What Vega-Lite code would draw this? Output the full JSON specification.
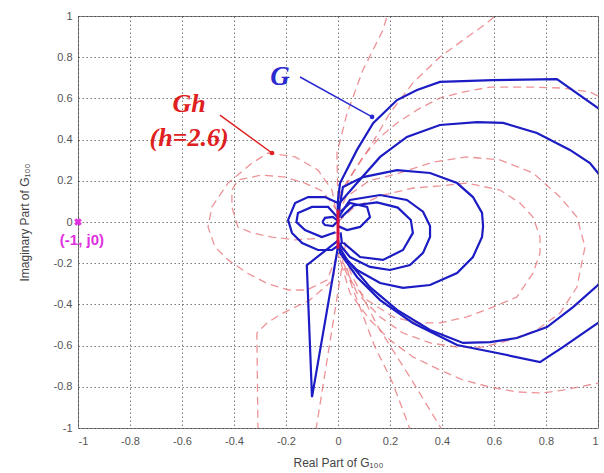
{
 "$schema": "https://vega.github.io/schema/vega-lite/v6.json",
 "width": 520, "height": 412,
 "autosize": {"type": "none"},
 "padding": {"left": 78, "top": 16, "right": 6, "bottom": 45},
 "background": "white",
 "config": {
  "view": {"stroke": "#808080", "strokeWidth": 1},
  "axis": {"grid": true, "gridColor": "#333", "gridDash": [1.5, 2.5], "gridOpacity": 0.65, "domain": false, "ticks": false,
   "labelFont": "Liberation Sans", "labelFontSize": 11, "labelColor": "#555", "titleFont": "Liberation Sans", "titleFontSize": 12, "titleFontWeight": "normal", "titleColor": "#444"}
 },
 "datasets": {
  "g": [
   {"s":"G1","k":0,"x":0,"y":0},{"s":"G1","k":1,"x":0,"y":0.107},{"s":"G1","k":2,"x":0.008,"y":0.189},{"s":"G1","k":3,"x":0.073,"y":0.35},{"s":"G1","k":4,"x":0.135,"y":0.48},{"s":"G1","k":5,"x":0.227,"y":0.592},{"s":"G1","k":6,"x":0.304,"y":0.641},{"s":"G1","k":7,"x":0.392,"y":0.68},{"s":"G1","k":8,"x":0.596,"y":0.689},{"s":"G1","k":9,"x":0.842,"y":0.694},{"s":"G1","k":10,"x":1.0,"y":0.553},{"s":"G1","k":11,"x":1.25,"y":0.33},{"s":"G1","k":12,"x":1.25,"y":-0.3},{"s":"G1","k":13,"x":1.0,"y":-0.49},{"s":"G1","k":14,"x":0.865,"y":-0.607},{"s":"G1","k":15,"x":0.777,"y":-0.68},{"s":"G1","k":16,"x":0.612,"y":-0.636},{"s":"G1","k":17,"x":0.458,"y":-0.597},{"s":"G1","k":18,"x":0.288,"y":-0.49},{"s":"G1","k":19,"x":0.162,"y":-0.379},{"s":"G1","k":20,"x":0.073,"y":-0.267},{"s":"G1","k":21,"x":0.008,"y":-0.15},{"s":"G1","k":22,"x":0,"y":-0.087},
   {"s":"G2","k":0,"x":0,"y":0},{"s":"G2","k":1,"x":0,"y":0.083},{"s":"G2","k":2,"x":0.073,"y":0.189},{"s":"G2","k":3,"x":0.162,"y":0.316},{"s":"G2","k":4,"x":0.265,"y":0.413},{"s":"G2","k":5,"x":0.392,"y":0.471},{"s":"G2","k":6,"x":0.535,"y":0.485},{"s":"G2","k":7,"x":0.635,"y":0.481},{"s":"G2","k":8,"x":0.765,"y":0.432},{"s":"G2","k":9,"x":0.892,"y":0.35},{"s":"G2","k":10,"x":0.969,"y":0.286},{"s":"G2","k":11,"x":1.0,"y":0.238},{"s":"G2","k":12,"x":1.08,"y":0.05},{"s":"G2","k":13,"x":1.08,"y":-0.12},{"s":"G2","k":14,"x":1.0,"y":-0.306},{"s":"G2","k":15,"x":0.904,"y":-0.413},{"s":"G2","k":16,"x":0.804,"y":-0.51},{"s":"G2","k":17,"x":0.688,"y":-0.563},{"s":"G2","k":18,"x":0.585,"y":-0.583},{"s":"G2","k":19,"x":0.481,"y":-0.587},{"s":"G2","k":20,"x":0.354,"y":-0.524},{"s":"G2","k":21,"x":0.227,"y":-0.427},{"s":"G2","k":22,"x":0.123,"y":-0.316},{"s":"G2","k":23,"x":0.035,"y":-0.184},{"s":"G2","k":24,"x":0,"y":-0.112},
   {"s":"G3","k":0,"x":0,"y":0.03},{"s":"G3","k":1,"x":0.019,"y":0.17},{"s":"G3","k":2,"x":0.096,"y":0.218},{"s":"G3","k":3,"x":0.227,"y":0.252},{"s":"G3","k":4,"x":0.354,"y":0.238},{"s":"G3","k":5,"x":0.458,"y":0.189},{"s":"G3","k":6,"x":0.519,"y":0.121},{"s":"G3","k":7,"x":0.554,"y":0.044},{"s":"G3","k":8,"x":0.558,"y":-0.02},{"s":"G3","k":9,"x":0.554,"y":-0.073},{"s":"G3","k":10,"x":0.519,"y":-0.17},{"s":"G3","k":11,"x":0.458,"y":-0.248},{"s":"G3","k":12,"x":0.354,"y":-0.306},{"s":"G3","k":13,"x":0.25,"y":-0.32},{"s":"G3","k":14,"x":0.162,"y":-0.296},{"s":"G3","k":15,"x":0.073,"y":-0.233},{"s":"G3","k":16,"x":0.008,"y":-0.15},
   {"s":"G4","k":0,"x":0,"y":0.02},{"s":"G4","k":1,"x":0.046,"y":0.107},{"s":"G4","k":2,"x":0.162,"y":0.131},{"s":"G4","k":3,"x":0.265,"y":0.107},{"s":"G4","k":4,"x":0.327,"y":0.05},{"s":"G4","k":5,"x":0.354,"y":-0.02},{"s":"G4","k":6,"x":0.354,"y":-0.073},{"s":"G4","k":7,"x":0.327,"y":-0.15},{"s":"G4","k":8,"x":0.277,"y":-0.209},{"s":"G4","k":9,"x":0.2,"y":-0.233},{"s":"G4","k":10,"x":0.123,"y":-0.218},{"s":"G4","k":11,"x":0.046,"y":-0.17},{"s":"G4","k":12,"x":0.008,"y":-0.112},
   {"s":"G5","k":0,"x":0.01,"y":0.02},{"s":"G5","k":1,"x":0.06,"y":0.08},{"s":"G5","k":2,"x":0.15,"y":0.095},{"s":"G5","k":3,"x":0.23,"y":0.07},{"s":"G5","k":4,"x":0.28,"y":0.01},{"s":"G5","k":5,"x":0.288,"y":-0.053},{"s":"G5","k":6,"x":0.25,"y":-0.136},{"s":"G5","k":7,"x":0.173,"y":-0.184},{"s":"G5","k":8,"x":0.085,"y":-0.17},{"s":"G5","k":9,"x":0.02,"y":-0.1},
   {"s":"G6","k":0,"x":0,"y":0},{"s":"G6","k":1,"x":0,"y":0.092},{"s":"G6","k":2,"x":-0.05,"y":0.121},{"s":"G6","k":3,"x":-0.115,"y":0.121},{"s":"G6","k":4,"x":-0.165,"y":0.092},{"s":"G6","k":5,"x":-0.192,"y":0.01},{"s":"G6","k":6,"x":-0.177,"y":-0.053},{"s":"G6","k":7,"x":-0.138,"y":-0.102},{"s":"G6","k":8,"x":-0.077,"y":-0.136},{"s":"G6","k":9,"x":-0.023,"y":-0.136},{"s":"G6","k":10,"x":0.015,"y":-0.102},{"s":"G6","k":11,"x":0.01,"y":-0.05},
   {"s":"G7","k":0,"x":0,"y":0.02},{"s":"G7","k":1,"x":-0.038,"y":0.073},{"s":"G7","k":2,"x":-0.1,"y":0.073},{"s":"G7","k":3,"x":-0.154,"y":0.044},{"s":"G7","k":4,"x":-0.16,"y":0},{"s":"G7","k":5,"x":-0.127,"y":-0.039},{"s":"G7","k":6,"x":-0.062,"y":-0.073},{"s":"G7","k":7,"x":-0.01,"y":-0.05},
   {"s":"G8","k":0,"x":0.01,"y":0.05},{"s":"G8","k":1,"x":0.046,"y":0.092},{"s":"G8","k":2,"x":0.112,"y":0.073},{"s":"G8","k":3,"x":0.123,"y":0.024},{"s":"G8","k":4,"x":0.085,"y":-0.024},{"s":"G8","k":5,"x":0.035,"y":-0.039},{"s":"G8","k":6,"x":0,"y":-0.02},
   {"s":"G9","k":0,"x":-0.06,"y":0},{"s":"G9","k":1,"x":-0.05,"y":0.02},{"s":"G9","k":2,"x":-0.02,"y":0.025},{"s":"G9","k":3,"x":0,"y":0.005},{"s":"G9","k":4,"x":-0.02,"y":-0.02},{"s":"G9","k":5,"x":-0.05,"y":-0.015},{"s":"G9","k":6,"x":-0.06,"y":0},
   {"s":"G10","k":0,"x":0,"y":-0.09},{"s":"G10","k":1,"x":-0.12,"y":-0.21},{"s":"G10","k":2,"x":-0.1,"y":-0.85},{"s":"G10","k":3,"x":0,"y":-0.12}
  ],
  "gh": [
   {"s":"R1","k":0,"x":0,"y":0.05},{"s":"R1","k":1,"x":-0.004,"y":0.335},{"s":"R1","k":2,"x":0.035,"y":0.529},{"s":"R1","k":3,"x":0.096,"y":0.738},{"s":"R1","k":4,"x":0.173,"y":0.932},{"s":"R1","k":5,"x":0.2,"y":1.05},
   {"s":"R2","k":0,"x":0,"y":0.05},{"s":"R2","k":1,"x":0.008,"y":0.121},{"s":"R2","k":2,"x":0.058,"y":0.238},{"s":"R2","k":3,"x":0.123,"y":0.364},{"s":"R2","k":4,"x":0.2,"y":0.529},{"s":"R2","k":5,"x":0.288,"y":0.675},{"s":"R2","k":6,"x":0.392,"y":0.801},{"s":"R2","k":7,"x":0.481,"y":0.883},{"s":"R2","k":8,"x":0.573,"y":0.966},{"s":"R2","k":9,"x":0.63,"y":1.03},
   {"s":"R3","k":0,"x":0,"y":0.05},{"s":"R3","k":1,"x":0.008,"y":0.141},{"s":"R3","k":2,"x":0.046,"y":0.218},{"s":"R3","k":3,"x":0.096,"y":0.316},{"s":"R3","k":4,"x":0.162,"y":0.413},{"s":"R3","k":5,"x":0.227,"y":0.481},{"s":"R3","k":6,"x":0.304,"y":0.544},{"s":"R3","k":7,"x":0.392,"y":0.602},{"s":"R3","k":8,"x":0.481,"y":0.631},{"s":"R3","k":9,"x":0.585,"y":0.655},{"s":"R3","k":10,"x":0.738,"y":0.655},{"s":"R3","k":11,"x":0.865,"y":0.65},{"s":"R3","k":12,"x":0.969,"y":0.631},{"s":"R3","k":13,"x":1.1,"y":0.55},{"s":"R3","k":14,"x":1.2,"y":0},{"s":"R3","k":15,"x":1.1,"y":-0.7},{"s":"R3","k":16,"x":1.0,"y":-0.782},{"s":"R3","k":17,"x":0.865,"y":-0.816},{"s":"R3","k":18,"x":0.788,"y":-0.83},{"s":"R3","k":19,"x":0.688,"y":-0.825},{"s":"R3","k":20,"x":0.585,"y":-0.801},{"s":"R3","k":21,"x":0.481,"y":-0.767},{"s":"R3","k":22,"x":0.392,"y":-0.718},{"s":"R3","k":23,"x":0.288,"y":-0.655},{"s":"R3","k":24,"x":0.2,"y":-0.573},{"s":"R3","k":25,"x":0.123,"y":-0.476},{"s":"R3","k":26,"x":0.046,"y":-0.345},{"s":"R3","k":27,"x":0,"y":-0.15},
   {"s":"R4","k":0,"x":0,"y":0},{"s":"R4","k":1,"x":0.06,"y":0.07},{"s":"R4","k":2,"x":0.17,"y":0.13},{"s":"R4","k":3,"x":0.29,"y":0.165},{"s":"R4","k":4,"x":0.392,"y":0.175},{"s":"R4","k":5,"x":0.496,"y":0.189},{"s":"R4","k":6,"x":0.623,"y":0.155},{"s":"R4","k":7,"x":0.7,"y":0.092},{"s":"R4","k":8,"x":0.75,"y":0.024},{"s":"R4","k":9,"x":0.777,"y":-0.073},{"s":"R4","k":10,"x":0.777,"y":-0.15},{"s":"R4","k":11,"x":0.75,"y":-0.248},{"s":"R4","k":12,"x":0.688,"y":-0.364},{"s":"R4","k":13,"x":0.596,"y":-0.413},{"s":"R4","k":14,"x":0.496,"y":-0.461},{"s":"R4","k":15,"x":0.392,"y":-0.49},{"s":"R4","k":16,"x":0.304,"y":-0.49},{"s":"R4","k":17,"x":0.212,"y":-0.461},{"s":"R4","k":18,"x":0.112,"y":-0.379},{"s":"R4","k":19,"x":0.046,"y":-0.282},{"s":"R4","k":20,"x":0.008,"y":-0.184},
   {"s":"R5","k":0,"x":0,"y":0.03},{"s":"R5","k":1,"x":0.03,"y":0.12},{"s":"R5","k":2,"x":0.12,"y":0.2},{"s":"R5","k":3,"x":0.238,"y":0.238},{"s":"R5","k":4,"x":0.365,"y":0.291},{"s":"R5","k":5,"x":0.496,"y":0.316},{"s":"R5","k":6,"x":0.623,"y":0.301},{"s":"R5","k":7,"x":0.75,"y":0.238},{"s":"R5","k":8,"x":0.854,"y":0.121},{"s":"R5","k":9,"x":0.919,"y":0.024},{"s":"R5","k":10,"x":0.95,"y":-0.121},{"s":"R5","k":11,"x":0.919,"y":-0.316},{"s":"R5","k":12,"x":0.854,"y":-0.442},{"s":"R5","k":13,"x":0.765,"y":-0.524},{"s":"R5","k":14,"x":0.662,"y":-0.573},{"s":"R5","k":15,"x":0.558,"y":-0.607},{"s":"R5","k":16,"x":0.458,"y":-0.607},{"s":"R5","k":17,"x":0.354,"y":-0.587},{"s":"R5","k":18,"x":0.25,"y":-0.539},{"s":"R5","k":19,"x":0.162,"y":-0.461},{"s":"R5","k":20,"x":0.073,"y":-0.345},{"s":"R5","k":21,"x":0.01,"y":-0.17},
   {"s":"R6","k":0,"x":0,"y":0},{"s":"R6","k":1,"x":-0.023,"y":0.155},{"s":"R6","k":2,"x":-0.077,"y":0.252},{"s":"R6","k":3,"x":-0.165,"y":0.316},{"s":"R6","k":4,"x":-0.269,"y":0.335},{"s":"R6","k":5,"x":-0.331,"y":0.286},{"s":"R6","k":6,"x":-0.423,"y":0.189},{"s":"R6","k":7,"x":-0.485,"y":0.073},{"s":"R6","k":8,"x":-0.5,"y":-0.024},{"s":"R6","k":9,"x":-0.473,"y":-0.121},{"s":"R6","k":10,"x":-0.423,"y":-0.184},{"s":"R6","k":11,"x":-0.346,"y":-0.25},{"s":"R6","k":12,"x":-0.27,"y":-0.3},{"s":"R6","k":13,"x":-0.19,"y":-0.33},{"s":"R6","k":14,"x":-0.12,"y":-0.33},{"s":"R6","k":15,"x":-0.042,"y":-0.282},{"s":"R6","k":16,"x":0,"y":-0.15},
   {"s":"R7","k":0,"x":0,"y":0.05},{"s":"R7","k":1,"x":-0.06,"y":0.15},{"s":"R7","k":2,"x":-0.127,"y":0.189},{"s":"R7","k":3,"x":-0.204,"y":0.218},{"s":"R7","k":4,"x":-0.292,"y":0.228},{"s":"R7","k":5,"x":-0.385,"y":0.204},{"s":"R7","k":6,"x":-0.408,"y":0.155},{"s":"R7","k":7,"x":-0.408,"y":0.073},{"s":"R7","k":8,"x":-0.385,"y":-0.024},{"s":"R7","k":9,"x":-0.331,"y":-0.053},{"s":"R7","k":10,"x":-0.254,"y":-0.073},{"s":"R7","k":11,"x":-0.165,"y":-0.087},{"s":"R7","k":12,"x":-0.08,"y":-0.08},{"s":"R7","k":13,"x":0,"y":-0.05},
   {"s":"R8","k":0,"x":0,"y":-0.1},{"s":"R8","k":1,"x":-0.019,"y":-0.282},{"s":"R8","k":2,"x":-0.108,"y":-0.379},{"s":"R8","k":3,"x":-0.212,"y":-0.442},{"s":"R8","k":4,"x":-0.273,"y":-0.49},{"s":"R8","k":5,"x":-0.312,"y":-0.539},{"s":"R8","k":6,"x":-0.308,"y":-0.995},{"s":"R8","k":7,"x":-0.305,"y":-1.1},
   {"s":"R9","k":0,"x":0.03,"y":-0.1},{"s":"R9","k":1,"x":-0.09,"y":-1.05},
   {"s":"R10","k":0,"x":0.01,"y":-0.1},{"s":"R10","k":1,"x":0.05,"y":-0.3},{"s":"R10","k":2,"x":0.14,"y":-0.6},{"s":"R10","k":3,"x":0.21,"y":-0.78},{"s":"R10","k":4,"x":0.29,"y":-1.05},
   {"s":"R11","k":0,"x":0.01,"y":-0.1},{"s":"R11","k":1,"x":0.05,"y":-0.25},{"s":"R11","k":2,"x":0.15,"y":-0.5},{"s":"R11","k":3,"x":0.28,"y":-0.76},{"s":"R11","k":4,"x":0.42,"y":-1.05}
  ],
  "core": [{"s":"C","k":0,"x":0,"y":0.06},{"s":"C","k":1,"x":0,"y":-0.13}],
  "arrowG": [{"x":-0.146,"y":0.704,"x2":0.131,"y2":0.51}],
  "arrowGh": [{"x":-0.454,"y":0.519,"x2":-0.254,"y2":0.335}],
  "headG": [{"x":0.131,"y":0.51}],
  "headGh": [{"x":-0.254,"y":0.335}],
  "labG": [{"x":-0.223,"y":0.704,"label":"G"}],
  "labGh": [{"x":-0.573,"y":0.573,"label":"Gh"},{"x":-0.573,"y":0.41,"label":"(h=2.6)"}],
  "labPt": [{"x":-0.985,"y":-0.087,"label":"(-1, j0)"}],
  "pt": [{"x":-1,"y":0}]
 },
 "encoding": {
  "x": {"field": "x", "type": "quantitative", "scale": {"domain": [-1, 1], "nice": false, "zero": false},
   "axis": {"values": [-1,-0.8,-0.6,-0.4,-0.2,0,0.2,0.4,0.6,0.8,1], "labelExpr": "toString(round(datum.value*10)/10)", "labelPadding": 7, "titlePadding": 11, "title": "Real Part of G₁₀₀"}},
  "y": {"field": "y", "type": "quantitative", "scale": {"domain": [-1, 1], "nice": false, "zero": false},
   "axis": {"values": [-1,-0.8,-0.6,-0.4,-0.2,0,0.2,0.4,0.6,0.8,1], "labelExpr": "toString(round(datum.value*10)/10)", "labelPadding": 6, "titlePadding": 22, "title": "Imaginary Part of G₁₀₀"}}
 },
 "layer": [
  {"data": {"name": "gh"}, "mark": {"type": "line", "clip": true, "color": "#e66a70", "strokeWidth": 1.3, "strokeDash": [8, 5], "opacity": 0.72},
   "encoding": {"detail": {"field": "s"}, "order": {"field": "k", "type": "quantitative"}}},
  {"data": {"name": "g"}, "mark": {"type": "line", "clip": true, "color": "#1c1cc4", "strokeWidth": 2.2},
   "encoding": {"detail": {"field": "s"}, "order": {"field": "k", "type": "quantitative"}}},
  {"data": {"name": "core"}, "mark": {"type": "line", "clip": true, "color": "#d81040", "strokeWidth": 3},
   "encoding": {"order": {"field": "k", "type": "quantitative"}}},
  {"data": {"name": "arrowG"}, "mark": {"type": "rule", "color": "#2a2ad0", "strokeWidth": 1.5},
   "encoding": {"x2": {"field": "x2"}, "y2": {"field": "y2"}}},
  {"data": {"name": "arrowGh"}, "mark": {"type": "rule", "color": "#e02020", "strokeWidth": 1.5},
   "encoding": {"x2": {"field": "x2"}, "y2": {"field": "y2"}}},
  {"data": {"name": "headG"}, "mark": {"type": "point", "filled": true, "color": "#2a2ad0", "size": 22, "opacity": 1}},
  {"data": {"name": "headGh"}, "mark": {"type": "point", "filled": true, "color": "#e02020", "size": 22, "opacity": 1}},
  {"data": {"name": "labG"}, "mark": {"type": "text", "font": "Liberation Serif", "fontSize": 27, "fontWeight": "bold", "fontStyle": "italic", "color": "#2a2ad0", "baseline": "middle", "align": "center"},
   "encoding": {"text": {"field": "label"}}},
  {"data": {"name": "labGh"}, "mark": {"type": "text", "font": "Liberation Serif", "fontSize": 26, "fontWeight": "bold", "fontStyle": "italic", "color": "#e02020", "baseline": "middle", "align": "center"},
   "encoding": {"text": {"field": "label"}}},
  {"data": {"name": "labPt"}, "mark": {"type": "text", "font": "Liberation Sans", "fontSize": 15, "fontWeight": "bold", "color": "#e030e0", "baseline": "middle", "align": "center"},
   "encoding": {"text": {"field": "label"}}},
  {"data": {"name": "pt"}, "mark": {"type": "point", "shape": "cross", "angle": 45, "filled": true, "color": "#e030e0", "size": 60, "opacity": 1}}
 ]
}
